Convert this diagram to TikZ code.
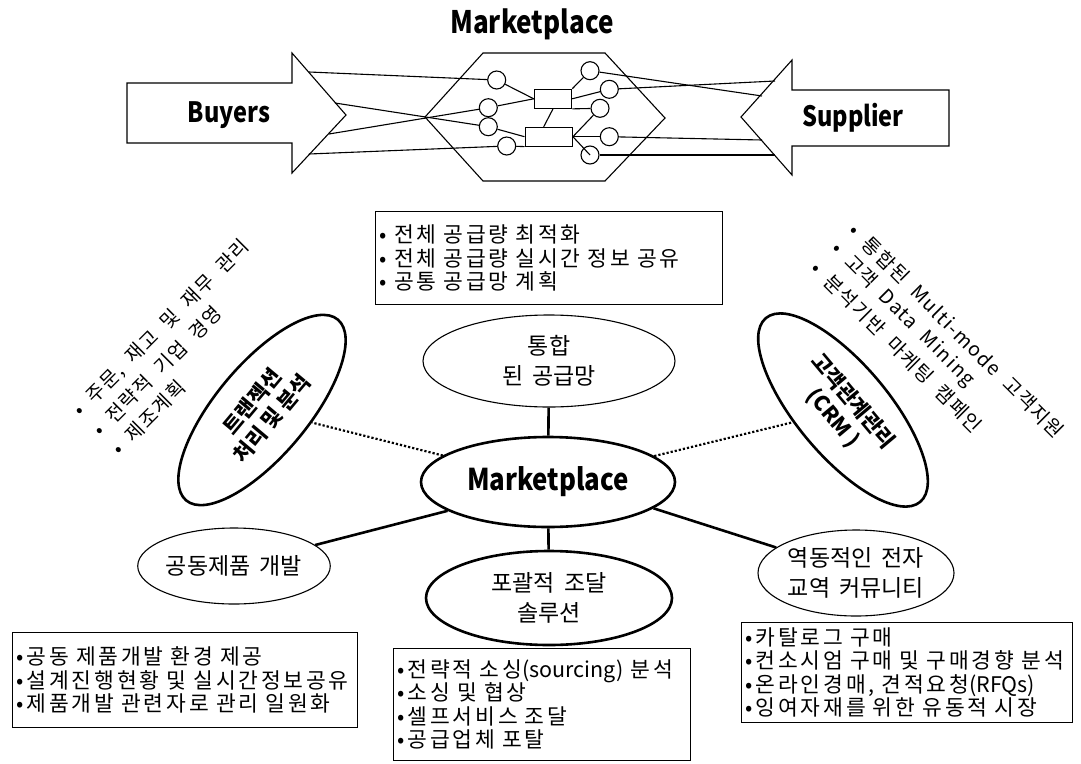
\documentclass[tikz,border=0pt]{standalone}
\usepackage{fontspec}
\usepackage{graphicx}
\usetikzlibrary{shapes.geometric,calc}
\newfontfamily\kr{Noto Sans CJK KR}
\newfontfamily\krwide{Noto Sans CJK KR}[LetterSpace=13]
\newfontfamily\krslant{Noto Sans CJK KR}[LetterSpace=7.5,WordSpace=2.0]
\newcommand\boxtext{\krwide\fontsize{21.5}{23.5}\selectfont\spaceskip=0.42em\relax}
\newcommand\latin[1]{{\kr #1}}
\newcommand\ovaltext{\kr\fontsize{23}{30}\selectfont\spaceskip=0.4em\relax}
\newcommand\slanttext{\krslant\fontsize{19.5}{22}\selectfont}
\newcommand\headtext[2][28]{\scalebox{0.84}[1]{\kr\bfseries\fontsize{#1}{#1}\selectfont #2}}

\begin{document}
\begin{tikzpicture}[x=1pt,y=-1pt,line join=miter,
  wire/.style={line width=1.1pt},
  pip/.style={circle,draw,line width=1.1pt,minimum size=18pt,inner sep=0pt},
  hub/.style={rectangle,draw,line width=1.1pt,inner sep=0pt},
  infobox/.style={draw,line width=1.2pt,align=left,anchor=north west,inner xsep=4pt,inner ysep=0pt,font=\boxtext},
  oval/.style={ellipse,draw,inner sep=0pt,align=center},
  ovalthin/.style={oval,line width=1.1pt,font=\ovaltext},
  ovalbold/.style={oval,line width=2.6pt},
  link/.style={line width=2.6pt},
  dotlink/.style={line width=2.2pt,dotted},
  slant/.style={anchor=west,inner sep=0pt,font=\slanttext}]
\useasboundingbox (0,0) rectangle (1081,763);

% ---------- marketplace exchange sketch ----------
\node (title) at (532,24) {\headtext[31]{Marketplace}};

% buyers arrow (pointing right)
\draw[wire] (127,83) -- (292,83) -- (292,53) -- (346,115) -- (292,173) -- (292,143) -- (127,143) -- cycle;
\node (buyers) at (229,115) {\headtext{Buyers}};
% supplier arrow (pointing left)
\draw[wire] (949,90) -- (792,90) -- (792,60) -- (741,117) -- (792,175) -- (792,146) -- (949,146) -- cycle;
\node (supplier) at (853,118) {\headtext{Supplier}};

% hexagonal market
\draw[wire] (483,53) -- (605,53) -- (665,118) -- (605,181) -- (483,181) -- (425,117) -- cycle;

% attachment points on the arrow heads
\coordinate (b1) at (309,72);
\coordinate (b2) at (335,103);
\coordinate (b3) at (329,134);
\coordinate (b4) at (309,154);
\coordinate (s1) at (775,81);
\coordinate (s2) at (762,96);
\coordinate (s3) at (762,140);
\coordinate (s4) at (775,155);

% ports and hubs
\node[pip] (L1) at (496.7,80) {};
\node[pip] (L2) at (488.3,107.7) {};
\node[pip] (L3) at (488.3,126.7) {};
\node[pip] (L4) at (506.7,146) {};
\node[pip] (R1) at (590,70.7) {};
\node[pip] (R2) at (609.3,89.3) {};
\node[pip] (R3) at (600,108.3) {};
\node[pip] (R4) at (609.3,136.7) {};
\node[pip] (R5) at (590,155) {};
\node[hub,minimum width=37.4pt,minimum height=19pt] (hA) at (553,98.8) {};
\node[hub,minimum width=47.3pt,minimum height=18.7pt] (hB) at (548.7,136.7) {};

\draw[wire] (b1) -- (L1);
\draw[wire] (b2) -- (L3);
\draw[wire] (b3) -- (L2);
\draw[wire] (b4) -- (L4);
\draw[wire] (L1) -- (hA.west);
\draw[wire] (L2) -- (hA.west);
\draw[wire] (L3) -- (hB.west);
\draw[wire] (L4) -- (hB.south west);
\draw[wire] (hA.south) -- ([xshift=-5pt]hB.north);
\draw[wire] (hA.north east) -- (R1);
\draw[wire] (hA.east) -- (R2);
\draw[wire] (hA.south east) -- (R3);
\draw[wire] (hB.east) -- (R3);
\draw[wire] (hB.east) -- (R4);
\draw[wire] (hB.east) -- (R5.center);
\draw[wire] (R1) -- (s2);
\draw[wire] (R2) -- (s1);
\draw[wire] (R4) -- (s3);
\draw[wire] (R5) -- (s4);

% ---------- benefit map ----------
\node[infobox,minimum width=347pt,minimum height=93pt,text width=339pt] (supbox) at (375,211)
  {\mbox{• 전체 공급량 최적화}\\\mbox{• 전체 공급량 실시간 정보 공유}\\\mbox{• 공통 공급망 계획}};

\node[ovalthin,minimum width=252pt,minimum height=92pt] (th) at (549,361) {통합\\된 공급망};
\node[ovalbold,minimum width=254pt,minimum height=90pt] (mp) at (548,482)
  {\scalebox{0.86}[1]{\kr\bfseries\fontsize{30}{30}\selectfont Marketplace}};
\node[ovalbold,minimum width=236pt,minimum height=92pt,rotate=50,font=\kr\bfseries\fontsize{21}{26}\selectfont] (tr) at (262,410)
  {트랜젝션\\처리 및 분석};
\node[ovalbold,minimum width=240pt,minimum height=92pt,rotate=-50,font=\kr\bfseries\fontsize{21}{26}\selectfont] (crm) at (843,410)
  {고객관계관리\\(CRM )};
\node[ovalthin,minimum width=156pt,minimum height=76pt] (gd) at (234,566) {공동제품 개발};
\node[ovalbold,minimum width=246pt,minimum height=94pt,font=\ovaltext] (pg) at (549,598) {포괄적 조달\\솔루션};
\node[ovalthin,minimum width=196pt,minimum height=86pt] (yd) at (856,573) {역동적인 전자\\교역 커뮤니티};

\draw[link] (th) -- (mp);
\draw[link] (mp) -- (pg);
\draw[link] (mp.196) -- (gd);
\draw[link] (mp.346) -- (yd);
\draw[dotlink] (mp) -- (tr);
\draw[dotlink] (mp) -- (crm);

% slanted bullet lists
\node[slant,rotate=45] (tl1) at (77,413) {• 주문, 재고 및 재무 관리};
\node[slant,rotate=45] (tl2) at (96,432) {• 전략적 기업 경영};
\node[slant,rotate=45] (tl3) at (115,451) {• 제조계획};
\node[slant,rotate=-45] (cl1) at (853,227) {• 통합된 Multi-mode 고객지원};
\node[slant,rotate=-45] (cl2) at (834,246) {• 고객 Data Mining};
\node[slant,rotate=-45] (cl3) at (815,265) {• 분석기반 마케팅 캠페인};

% bottom lists
\node[infobox,minimum width=345pt,minimum height=95pt,text width=337pt] (devbox) at (12,632)
  {\mbox{•공동 제품개발 환경 제공}\\\mbox{•설계진행현황 및 실시간정보공유}\\\mbox{•제품개발 관련자로 관리 일원화}};
\node[infobox,minimum width=297pt,minimum height=112pt,text width=289pt] (procbox) at (393,648)
  {\mbox{•전략적 소싱\latin{(sourcing)} 분석}\\\mbox{•소싱 및 협상}\\\mbox{•셀프서비스 조달}\\\mbox{•공급업체 포탈}};
\node[infobox,minimum width=331pt,minimum height=100pt,text width=323pt] (tradebox) at (741,622)
  {\mbox{•카탈로그 구매}\\\mbox{•컨소시엄 구매 및 구매경향 분석}\\\mbox{•온라인경매, 견적요청\latin{(RFQs)}}\\\mbox{•잉여자재를 위한 유동적 시장}};
\end{tikzpicture}
\end{document}
